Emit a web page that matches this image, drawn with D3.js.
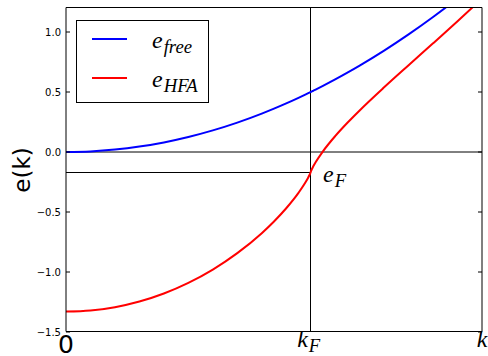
<!DOCTYPE html>
<html>
<head>
<meta charset="utf-8">
<script src="https://cdn.jsdelivr.net/npm/d3@7"></script>
<style>
  body { margin: 0; background: #fff; }
  svg { display: block; }
</style>
</head>
<body>
<div id="chart"></div>
<script>
// wave vector in units of k_F
var kValues = [0, 0.1, 0.2, 0.3, 0.4, 0.5, 0.6, 0.7, 0.8, 0.85, 0.9, 0.95, 0.98, 0.99, 0.995,
               1.0, 1.005, 1.01, 1.02, 1.05, 1.1, 1.15, 1.2, 1.3, 1.4, 1.5, 1.6, 1.7];
var eFree = [0, 0.005, 0.02, 0.045, 0.08, 0.125, 0.18, 0.245, 0.32, 0.36125, 0.405, 0.45125, 0.4802, 0.49005, 0.4950,
             0.5, 0.5050, 0.51005, 0.5202, 0.55125, 0.605, 0.66125, 0.72, 0.845, 0.98, 1.125, 1.28, 1.445];
var eHFA = [-1.3300, -1.3210, -1.2930, -1.2460, -1.1790, -1.0905, -0.9796, -0.8429, -0.6763, -0.5788, -0.4689, -0.3408, -0.2484, -0.2121, -0.1917,
            -0.1667, -0.1417, -0.1214, -0.0855, 0.0054, 0.1321, 0.2435, 0.3464, 0.5387, 0.7229, 0.9054, 1.0899, 1.2786];
var yTicks = [-1.5, -1.0, -0.5, 0.0, 0.5, 1.0];
var kF = 1.0, eF = -0.1667;

var width = 488, height = 356;
var svg = d3.select("#chart").append("svg")
    .attr("width", width)
    .attr("height", height);

var x = d3.scaleLinear().domain([0, 1.7]).range([66, 482]);
var y = d3.scaleLinear().domain([-1.5, 1.2]).range([332, 8]);

svg.append("clipPath").attr("id", "clip")
  .append("rect")
    .attr("x", 66).attr("y", 8)
    .attr("width", 416).attr("height", 324);

var plot = svg.append("g").attr("clip-path", "url(#clip)");

// reference lines
plot.append("line")
    .attr("x1", x(0)).attr("x2", x(1.7))
    .attr("y1", y(0)).attr("y2", y(0))
    .attr("stroke", "#000").attr("stroke-width", 1);
plot.append("line")
    .attr("x1", Math.floor(x(kF)) + 0.5).attr("x2", Math.floor(x(kF)) + 0.5)
    .attr("y1", y(1.2)).attr("y2", y(-1.5))
    .attr("stroke", "#000").attr("stroke-width", 1);
plot.append("line")
    .attr("x1", x(0)).attr("x2", x(kF))
    .attr("y1", Math.round(y(eF)) + 0.5).attr("y2", Math.round(y(eF)) + 0.5)
    .attr("stroke", "#000").attr("stroke-width", 1);

var line = d3.line().curve(d3.curveMonotoneX);
var series = [
  { name: "free", values: eFree, color: "#0000ff" },
  { name: "HFA", values: eHFA, color: "#ff0000" }
];
series.forEach(function (s) {
  plot.append("path")
      .attr("d", line(kValues.map(function (k, i) { return [x(k), y(s.values[i])]; })))
      .attr("fill", "none")
      .attr("stroke", s.color)
      .attr("stroke-width", 2);
});

// frame
svg.append("line").attr("x1", 66).attr("x2", 66).attr("y1", 7.5).attr("y2", 331.5).attr("stroke", "#000");
svg.append("line").attr("x1", 482).attr("x2", 482).attr("y1", 7.5).attr("y2", 331.5).attr("stroke", "#000");
svg.append("line").attr("x1", 66).attr("x2", 482).attr("y1", 7.5).attr("y2", 7.5).attr("stroke", "#000");
svg.append("line").attr("x1", 66).attr("x2", 482).attr("y1", 331.5).attr("y2", 331.5).attr("stroke", "#000");

// y ticks, inward on both sides
var fmt = d3.format(".1f");
yTicks.forEach(function (t) {
  svg.append("line").attr("x1", 66).attr("x2", 70).attr("y1", y(t)).attr("y2", y(t)).attr("stroke", "#000");
  svg.append("line").attr("x1", 478).attr("x2", 482).attr("y1", y(t)).attr("y2", y(t)).attr("stroke", "#000");
  svg.append("text")
      .attr("x", 61).attr("y", y(t))
      .attr("dy", "0.35em")
      .attr("text-anchor", "end")
      .style("font-family", "DejaVu Sans")
      .style("font-size", "10px")
      .text(fmt(t).replace("-", "\u2212"));
});

// y label
svg.append("text")
    .attr("transform", "translate(30,170) rotate(-90)")
    .attr("text-anchor", "middle")
    .style("font-family", "DejaVu Sans")
    .style("font-size", "23px")
    .text("e(k)");

// x tick labels
svg.append("text")
    .attr("x", x(0)).attr("y", 353)
    .attr("text-anchor", "middle")
    .style("font-family", "DejaVu Sans")
    .style("font-size", "25px")
    .text("0");

function mathLabel(xp, yp, main, sub, size, anchor) {
  var t = svg.append("text")
      .attr("x", xp).attr("y", yp)
      .attr("text-anchor", anchor || "start")
      .style("font-family", "Liberation Serif")
      .style("font-style", "italic")
      .style("font-size", size + "px");
  t.append("tspan").text(main);
  if (sub) {
    t.append("tspan")
        .attr("dx", 1)
        .attr("dy", size * 0.22)
        .style("font-size", (size * 0.78) + "px")
        .text(sub);
  }
  return t;
}

mathLabel(x(kF) - 2, 347, "k", "F", 24, "middle");
mathLabel(x(1.7), 347, "k", null, 24, "middle");
mathLabel(323, 182, "e", "F", 24);

// legend
var legend = svg.append("g");
legend.append("rect")
    .attr("x", 76.5).attr("y", 20.5)
    .attr("width", 132).attr("height", 82)
    .attr("fill", "#fff")
    .attr("stroke", "#000");
series.forEach(function (s, i) {
  var ly = 39 + i * 39;
  legend.append("line")
      .attr("x1", 92).attr("x2", 127)
      .attr("y1", ly).attr("y2", ly)
      .attr("stroke", s.color)
      .attr("stroke-width", 2);
  mathLabel(152, ly + 9, "e", s.name, 24);
});
</script>
</body>
</html>
